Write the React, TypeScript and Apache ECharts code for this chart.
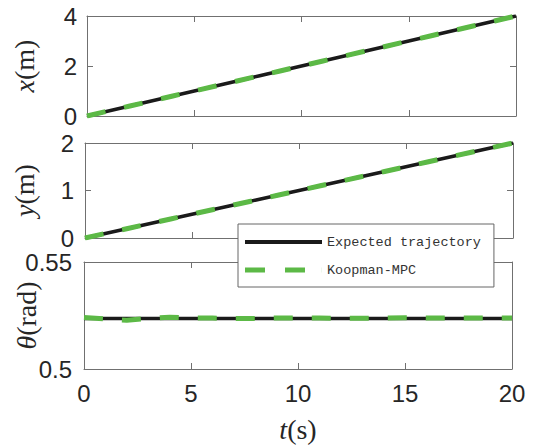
import React, { useEffect, useRef } from "react";
import * as echarts from "echarts";

// time (s)
const time = [0, 1, 2, 3, 4, 5, 6, 7, 8, 9, 10, 11, 12, 13, 14, 15, 16, 17, 18, 19, 20];
// x (m)
const xExpected = [0, 0.2, 0.4, 0.6, 0.8, 1.0, 1.2, 1.4, 1.6, 1.8, 2.0, 2.2, 2.4, 2.6, 2.8, 3.0, 3.2, 3.4, 3.6, 3.8, 4.0];
const xKoopman = [0, 0.2, 0.4, 0.6, 0.8, 1.0, 1.2, 1.4, 1.6, 1.8, 2.0, 2.2, 2.4, 2.6, 2.8, 3.0, 3.2, 3.4, 3.6, 3.8, 4.0];
// y (m)
const yExpected = [0, 0.1, 0.2, 0.3, 0.4, 0.5, 0.6, 0.7, 0.8, 0.9, 1.0, 1.1, 1.2, 1.3, 1.4, 1.5, 1.6, 1.7, 1.8, 1.9, 2.0];
const yKoopman = [0, 0.1, 0.2, 0.3, 0.4, 0.5, 0.6, 0.7, 0.8, 0.9, 1.0, 1.1, 1.2, 1.3, 1.4, 1.5, 1.6, 1.7, 1.8, 1.9, 2.0];
// theta (rad)
const thetaExpected = [0.5236, 0.5236, 0.5236, 0.5236, 0.5236, 0.5236, 0.5236, 0.5236, 0.5236, 0.5236, 0.5236, 0.5236, 0.5236, 0.5236, 0.5236, 0.5236, 0.5236, 0.5236, 0.5236, 0.5236, 0.5236];
const thetaKoopman = [0.5241, 0.5234, 0.5228, 0.5236, 0.5242, 0.5239, 0.5238, 0.5236, 0.5236, 0.5238, 0.5238, 0.5238, 0.5237, 0.5237, 0.5238, 0.5240, 0.5238, 0.5238, 0.5238, 0.5238, 0.5238];

const xTickLabels = ["0", "5", "10", "15", "20"];

const seriesNames = ["Expected trajectory", "Koopman-MPC"];

const zip = (a: number[], b: number[]) => a.map((v, i) => [v, b[i]]);

export default function App() {
  const ref = useRef<HTMLDivElement>(null);
  useEffect(() => {
    if (!ref.current) return;
    const chart = echarts.init(ref.current, null, { renderer: "svg" });
    const axisColor = "#707070";
    const textColor = "#262626";
    const grids = [
      { left: 87, top: 16, width: 429, height: 100, outerBoundsMode: "none", containLabel: false },
      { left: 85, top: 143, width: 428, height: 95, outerBoundsMode: "none", containLabel: false },
      { left: 84, top: 262, width: 428, height: 107, outerBoundsMode: "none", containLabel: false },
    ];
    const yRanges = [
      { min: 0, max: 4, interval: 2 },
      { min: 0, max: 2, interval: 1 },
      { min: 0.5, max: 0.55, interval: 0.05 },
    ];
    const yNames = ["{i|x}(m)", "{i|y}(m)", "{i|θ}(rad)"];
    const yGaps = [49, 47, 44];
    const yLabelMargins = [10, 11, 12];
    const nameStyle = {
      fontFamily: "Liberation Serif",
      fontSize: 28,
      color: textColor,
      rich: {
        i: { fontFamily: "Liberation Serif", fontStyle: "italic", fontSize: 28, color: textColor },
      },
    };
    const xAxes: any[] = [];
    const yAxes: any[] = [];
    grids.forEach((g, i) => {
      const isBottom = i === 2;
      const common = {
        gridIndex: i,
        type: "value",
        min: 0,
        max: 20,
        interval: 5,
        splitLine: { show: false },
        axisLine: { show: true, onZero: false, lineStyle: { color: axisColor, width: 1 } },
        axisTick: { show: true, inside: true, length: 6, lineStyle: { color: axisColor } },
      };
      xAxes.push({
        ...common,
        position: "bottom",
        axisLabel: {
          show: isBottom,
          fontFamily: "Liberation Sans",
          fontSize: 24,
          lineHeight: 22,
          color: textColor,
          margin: 13,
          formatter: (v: number) => xTickLabels[Math.round(v / 5)] ?? String(v),
        },
        name: isBottom ? "{i|t}(s)" : "",
        nameLocation: "middle",
        nameGap: 46,
        nameMoveOverlap: false,
        nameTextStyle: nameStyle,
      });
      xAxes.push({ ...common, position: "top", axisLabel: { show: false } });
      const yc = {
        gridIndex: i,
        type: "value",
        ...yRanges[i],
        splitLine: { show: false },
        axisLine: { show: true, onZero: false, lineStyle: { color: axisColor, width: 1 } },
        axisTick: { show: true, inside: true, length: 6, lineStyle: { color: axisColor } },
      };
      yAxes.push({
        ...yc,
        position: "left",
        axisLabel: {
          show: true,
          fontFamily: "Liberation Sans",
          fontSize: 24,
          lineHeight: 21,
          color: textColor,
          margin: yLabelMargins[i],
        },
        name: yNames[i],
        nameLocation: "middle",
        nameGap: yGaps[i],
        nameRotate: 90,
        nameMoveOverlap: false,
        nameTextStyle: nameStyle,
      });
      yAxes.push({ ...yc, position: "right", axisLabel: { show: false } });
    });
    const blackStyle = { color: "#1a1a1a", width: 3.5, type: "solid" };
    const greenStyle = { color: "#5cb946", width: 5, type: [19, 19] };
    const pairs = [
      [xExpected, xKoopman],
      [yExpected, yKoopman],
      [thetaExpected, thetaKoopman],
    ];
    const series: any[] = [];
    pairs.forEach((p, i) => {
      series.push({
        name: seriesNames[0],
        type: "line",
        xAxisIndex: i * 2,
        yAxisIndex: i * 2,
        data: zip(time, p[0]),
        showSymbol: false,
        symbol: "none",
        itemStyle: { color: blackStyle.color },
        lineStyle: blackStyle,
        z: 2,
      });
      series.push({
        name: seriesNames[1],
        type: "line",
        xAxisIndex: i * 2,
        yAxisIndex: i * 2,
        data: zip(time, p[1]),
        showSymbol: false,
        symbol: "none",
        itemStyle: { color: greenStyle.color },
        lineStyle: greenStyle,
        z: 3,
      });
    });
    chart.setOption({
      animation: false,
      backgroundColor: "#ffffff",
      grid: grids,
      xAxis: xAxes,
      yAxis: yAxes,
      legend: {
        data: [
          {
            name: seriesNames[0],
            icon: "path://M0,0h77v4h-77z",
            itemStyle: { color: "#1a1a1a", borderWidth: 0 },
          },
          {
            name: seriesNames[1],
            icon: "path://M0,0h20v5h-20zM40,0h20v5h-20zM76.9,0h0.1v5h-0.1z",
            itemStyle: { color: "#5cb946", borderWidth: 0 },
          },
        ],
        orient: "vertical",
        left: 238,
        top: 224,
        itemWidth: 77,
        itemHeight: 14,
        itemGap: 14,
        padding: [11, 13, 10, 7],
        borderColor: "#666666",
        borderWidth: 1,
        backgroundColor: "#ffffff",
        textStyle: { fontFamily: "Liberation Mono", fontSize: 13.5, color: "#333333" },
        selectedMode: false,
        z: 10,
      },
      series,
    });
    return () => chart.dispose();
  }, []);
  return (
    <div
      ref={ref}
      style={{ position: "fixed", left: 0, top: 0, width: 534, height: 445, background: "#fff" }}
    />
  );
}
